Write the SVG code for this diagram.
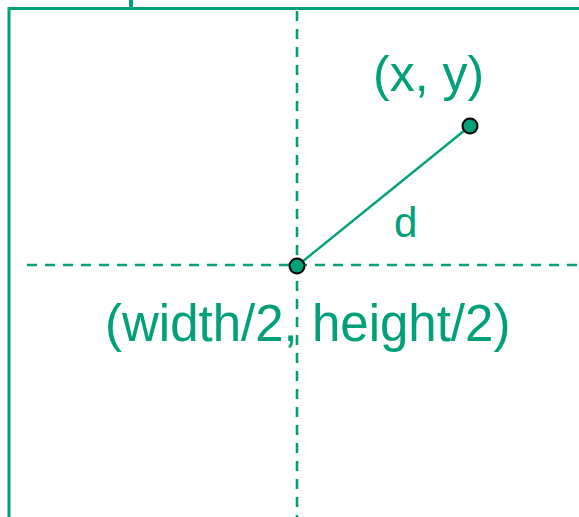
<svg xmlns="http://www.w3.org/2000/svg" width="579" height="517" viewBox="0 0 579 517">
<style>
.g{stroke:#00A078;fill:none}
.dash{stroke:#00A078;stroke-width:2.6;stroke-dasharray:10 8;fill:none}
.lbl{fill:#00A078;font-family:"Liberation Sans",Arial,sans-serif}
.pt{fill:#00A078;stroke:#000;stroke-width:2}
</style>
<rect width="579" height="517" fill="#fff"/>
<g id="frame">
<rect class="g" x="9" y="8.5" width="620" height="560" stroke-width="3"/>
<rect x="129" y="0" width="4" height="7" fill="#00A078"/>
</g>
<g id="connectors">
<line class="dash" x1="297" y1="11" x2="297" y2="517"/>
<line class="dash" x1="27" y1="265" x2="579" y2="265"/>
<line class="g" x1="297" y1="266" x2="470" y2="126" stroke-width="2.4"/>
</g>
<g id="center">
<circle class="pt" cx="297" cy="266" r="7.5"/>
<text class="lbl" x="105" y="341" font-size="51">(width/2, height/2)</text>
</g>
<g id="point">
<circle class="pt" cx="470" cy="126" r="7.5"/>
<text class="lbl" x="373" y="91" font-size="50">(x, y)</text>
</g>
<g id="distance">
<text class="lbl" x="394" y="237" font-size="42">d</text>
</g>
</svg>
